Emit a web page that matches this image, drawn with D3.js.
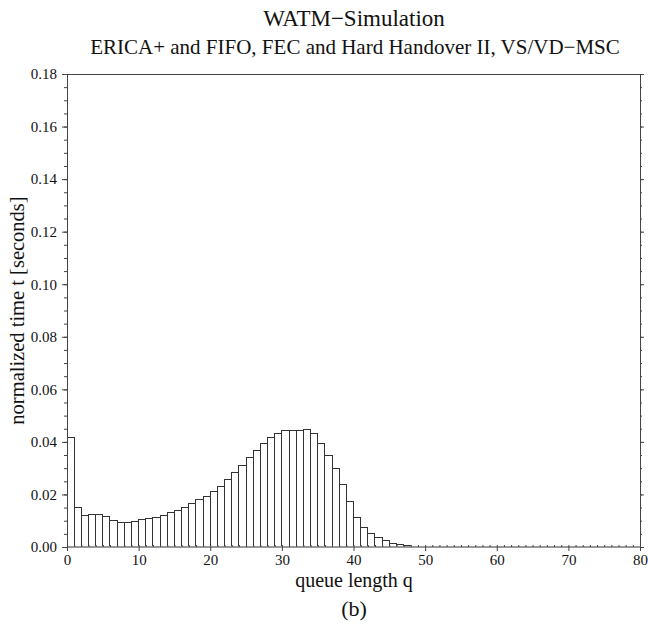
<!DOCTYPE html>
<html><head><meta charset="utf-8">
<script src="https://cdn.jsdelivr.net/npm/d3@7"></script>
<style>body{margin:0;background:#fff}svg{display:block}text{font-family:"Liberation Serif","DejaVu Serif",serif;fill:#111}</style>
</head><body>
<script>
const title = "WATM\u2212Simulation";
const subtitle = "ERICA+ and FIFO, FEC and Hard Handover II, VS/VD\u2212MSC";
const xLabel = "queue length q";
const yLabel = "normalized time t [seconds]";
const caption = "(b)";
const xTicks = [0,10,20,30,40,50,60,70,80];
const yTicks = [0,0.02,0.04,0.06,0.08,0.10,0.12,0.14,0.16,0.18];
// normalized time per queue length bin q = 0..79
const values = [
 0.0416,0.0152,0.0118,0.0124,0.0124,0.0115,0.0101,0.0094,0.0094,0.0098,
 0.0103,0.0109,0.0114,0.0121,0.0131,0.0138,0.0151,0.0164,0.0179,0.0193,
 0.0213,0.0232,0.0258,0.0282,0.0309,0.0340,0.0367,0.0392,0.0416,0.0433,
 0.0443,0.0443,0.0443,0.0448,0.0433,0.0395,0.0347,0.0297,0.0239,0.0175,
 0.0113,0.0076,0.0053,0.0037,0.0023,0.0015,0.0010,0.0006,0.0003,0.0002,
 0.0002,0.0001,0.0001,0.0001,0,0,0,0,0,0,
 0,0,0,0,0,0,0,0,0,0,
 0,0,0,0,0,0,0,0,0,0
];

const W=648,H=627, L=67,R=640,T=74,B=547;
const FONT='"Liberation Serif","DejaVu Serif",serif';
const svg=d3.select("body").append("svg").attr("width",W).attr("height",H);
const x=d3.scaleLinear().domain([0,80]).range([L,R]);
const y=d3.scaleLinear().domain([0,0.18]).range([B,T]);

// bars
svg.append("g").selectAll("rect").data(values).join("rect")
  .attr("x",(d,i)=>x(i)).attr("width",(d,i)=>x(i+1)-x(i))
  .attr("y",d=>y(d)).attr("height",d=>B-y(d))
  .attr("fill","none").attr("stroke","#333").attr("stroke-width",1).attr("shape-rendering","crispEdges");

// frame
svg.append("rect").attr("x",L).attr("y",T).attr("width",R-L).attr("height",B-T)
  .attr("fill","none").attr("stroke","#444").attr("stroke-width",1).attr("shape-rendering","crispEdges");
svg.append("line").attr("x1",L).attr("x2",R).attr("y1",B).attr("y2",B).attr("stroke","#999").attr("stroke-width",2);

// y axes
const yMinor=d3.range(0,0.1801,0.005);
const yl=d3.axisLeft(y).tickValues(yTicks).tickFormat(d3.format(".2f")).tickSize(5).tickPadding(5);
const gL=svg.append("g").attr("transform",`translate(${L},0)`).call(yl);
gL.select(".domain").remove();
gL.attr("font-family",FONT).selectAll("text").attr("font-size",15);
svg.append("g").attr("transform",`translate(${L},0)`).call(d3.axisLeft(y).tickValues(yMinor).tickSize(3).tickFormat("")).select(".domain").remove();
const gR=svg.append("g").attr("transform",`translate(${R},0)`).call(d3.axisRight(y).tickValues(yTicks).tickSize(4).tickFormat(""));
gR.select(".domain").remove();
svg.append("g").attr("transform",`translate(${R},0)`).call(d3.axisRight(y).tickValues(yMinor).tickSize(2).tickFormat("")).select(".domain").remove();

// x axis
const gx=svg.append("g").attr("transform",`translate(0,${B})`).call(d3.axisBottom(x).tickValues(xTicks).tickSize(4).tickPadding(3));
gx.select(".domain").remove();
gx.attr("font-family",FONT).selectAll("text").attr("font-size",15);
svg.append("g").attr("transform",`translate(0,${B})`).call(d3.axisTop(x).tickValues(d3.range(0,81,1)).tickSize(2).tickFormat("")).select(".domain").remove();
svg.selectAll(".tick line").attr("stroke","#444");

// texts
svg.append("text").attr("x",354).attr("y",26).attr("text-anchor","middle").attr("font-size",23).text(title);
svg.append("text").attr("x",355).attr("y",54).attr("text-anchor","middle").attr("font-size",21).text(subtitle);
svg.append("text").attr("x",354).attr("y",587).attr("text-anchor","middle").attr("font-size",20).text(xLabel);
svg.append("text").attr("x",354).attr("y",616).attr("text-anchor","middle").attr("font-size",22).text(caption);
svg.append("text").attr("transform",`translate(24,${(T+B)/2}) rotate(-90)`).attr("text-anchor","middle").attr("font-size",20.5).text(yLabel);
</script>
</body></html>
